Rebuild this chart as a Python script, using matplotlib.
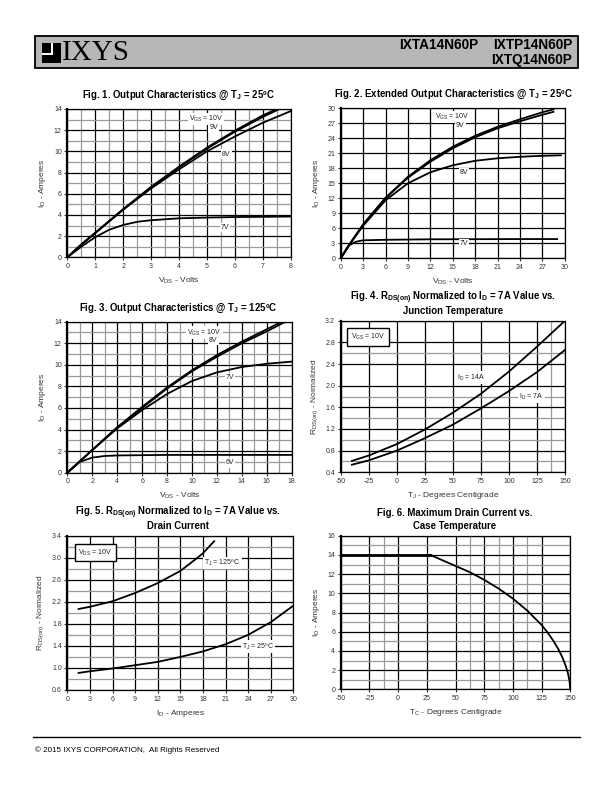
import numpy as np
import matplotlib.pyplot as plt
from matplotlib.patches import Rectangle
from matplotlib.lines import Line2D

plt.rcParams['font.family'] = ['Liberation Sans', 'DejaVu Sans']
plt.rcParams['mathtext.fontset'] = 'custom'
plt.rcParams['mathtext.rm'] = 'Liberation Sans'
plt.rcParams['mathtext.it'] = 'Liberation Sans'
plt.rcParams['mathtext.bf'] = 'Liberation Sans:bold'
plt.rcParams['axes.unicode_minus'] = False

# ---- Fig. 1 data (Tj = 25C)
f1_vds_10 = [0, 0.5, 1, 2, 3, 4, 5, 6, 7, 7.5]
f1_id_10 = [0, 1.2, 2.3, 4.55, 6.65, 8.55, 10.35, 11.95, 13.4, 14.0]
f1_vds_9 = [0, 0.5, 1, 2, 3, 4, 5, 6, 7, 7.6]
f1_id_9 = [0, 1.2, 2.3, 4.5, 6.6, 8.5, 10.25, 11.85, 13.25, 14.0]
f1_vds_8 = [0, 0.5, 1, 2, 3, 4, 5, 6, 7, 8]
f1_id_8 = [0, 1.2, 2.3, 4.5, 6.5, 8.3, 10.0, 11.4, 12.7, 13.8]
f1_vds_7 = [0, 0.5, 1, 1.5, 2, 2.5, 3, 4, 5, 6, 7, 8]
f1_id_7 = [0, 1.0, 1.9, 2.6, 3.05, 3.35, 3.5, 3.68, 3.75, 3.8, 3.82, 3.85]

# ---- Fig. 2 data (extended)
f2_vds_10 = [0, 1.5, 3, 6, 9, 12, 15, 18, 21, 24, 27, 28.5]
f2_id_10 = [0, 3.5, 6.8, 12.1, 16.3, 19.6, 22.3, 24.5, 26.3, 27.8, 29.2, 29.8]
f2_vds_9 = [0, 1.5, 3, 6, 9, 12, 15, 18, 21, 24, 27, 28.5]
f2_id_9 = [0, 3.5, 6.7, 12.0, 16.1, 19.3, 22.0, 24.2, 26.0, 27.4, 28.7, 29.3]
f2_vds_8 = [0, 1.5, 3, 6, 9, 12, 15, 18, 21, 24, 27, 29.5]
f2_id_8 = [0, 3.4, 6.5, 11.6, 15.0, 17.2, 18.6, 19.5, 20.0, 20.3, 20.5, 20.6]
f2_vds_7 = [0, 1, 2, 3, 6, 12, 18, 24, 29]
f2_id_7 = [0, 2.5, 3.3, 3.6, 3.7, 3.8, 3.82, 3.85, 3.85]

# ---- Fig. 3 data (Tj = 125C)
f3_vds_10 = [0, 1, 2, 4, 6, 8, 10, 12, 14, 16, 17.2]
f3_id_10 = [0, 1.05, 2.1, 4.2, 6.1, 7.9, 9.5, 10.9, 12.15, 13.3, 14.0]
f3_vds_8 = [0, 1, 2, 4, 6, 8, 10, 12, 14, 16, 17.5]
f3_id_8 = [0, 1.05, 2.1, 4.2, 6.0, 7.8, 9.4, 10.75, 12.0, 13.1, 14.0]
f3_vds_7 = [0, 1, 2, 4, 6, 8, 10, 12, 14, 16, 18]
f3_id_7 = [0, 1.05, 2.1, 4.1, 5.8, 7.3, 8.5, 9.3, 9.8, 10.1, 10.3]
f3_vds_6 = [0, 1, 2, 3, 4, 8, 12, 18]
f3_id_6 = [0, 1.0, 1.4, 1.55, 1.6, 1.65, 1.65, 1.65]

# ---- Fig. 4 data
f4_tj = [-40, -25, 0, 25, 50, 75, 100, 125, 150]
f4_r14 = [0.61, 0.71, 0.92, 1.19, 1.50, 1.85, 2.26, 2.72, 3.20]
f4_r7 = [0.54, 0.62, 0.80, 1.03, 1.28, 1.58, 1.90, 2.25, 2.66]

# ---- Fig. 5 data
f5_id_125 = [1.5, 3, 6, 9, 12, 15, 17, 18, 19.5]
f5_r_125 = [2.07, 2.11, 2.21, 2.36, 2.54, 2.76, 2.97, 3.08, 3.30]
f5_id_25 = [1.5, 3, 6, 9, 12, 15, 18, 21, 24, 27, 30]
f5_r_25 = [0.91, 0.94, 0.99, 1.05, 1.11, 1.20, 1.30, 1.43, 1.60, 1.83, 2.13]

# ---- Fig. 6 data
f6_tc = [-50, 28, 37.5, 50, 62.5, 75, 87.5, 100, 112.5, 125, 130, 135, 140,
         143, 146, 148, 149.3, 150]
f6_id = [14, 14, 13.5, 12.85, 12.2, 11.4, 10.5, 9.45, 8.2, 6.7, 5.95, 5.1, 4.1,
         3.35, 2.45, 1.65, 0.85, 0]

W, H = 612, 792
fig = plt.figure(figsize=(W / 100, H / 100), dpi=100)


def px_axes(x0, y0, x1, y1):
    return fig.add_axes([x0 / W, 1 - y1 / H, (x1 - x0) / W, (y1 - y0) / H])


def style(ax, xlim, ylim, xmaj, ymaj, xmin=(), ymin=(), xlab='', ylab=''):
    ax.set_xlim(*xlim)
    ax.set_ylim(*ylim)
    ax.set_xticks(xmaj)
    ax.set_yticks(ymaj)
    ax.set_xticks(xmin, minor=True)
    ax.set_yticks(ymin, minor=True)
    ax.grid(True, which='major', color='black', lw=0.9)
    ax.grid(True, which='minor', color='#9a9a9a', lw=0.9)
    ax.set_axisbelow(True)
    ax.tick_params(which='major', length=2, width=0.8, labelsize=5, colors='#333333', pad=2)
    ax.tick_params(which='minor', length=0)
    for s in ax.spines.values():
        s.set_color('black')
        s.set_linewidth(0.9)
    ax.spines['left'].set_linewidth(1.6)
    ax.set_xlabel(xlab, fontsize=6, color='#333333', labelpad=4)
    ax.set_ylabel(ylab, fontsize=6, color='#333333', labelpad=4)


def lbl(ax, x, y, s, fs=5):
    ax.text(x, y, s, fontsize=fs, ha='center', va='center', color='#222222',
            bbox=dict(facecolor='white', edgecolor='none', pad=0.8), zorder=5)


def boxlbl(ax, x, y, s):
    ax.text(x, y, s, fontsize=5, ha='center', va='center', color='#222222',
            bbox=dict(facecolor='white', edgecolor='black', lw=1.0, pad=2.5), zorder=5)


def title(x, y, s):
    fig.text(x / W, 1 - y / H, s, fontsize=6.9, fontweight='bold', ha='center', va='center')


LW = 1.3
odd = lambda a, b: np.arange(a, b + 0.01, 2)

# Fig. 1
ax1 = px_axes(67.3, 109, 290.7, 257.3)
style(ax1, (0, 8), (0, 14), range(0, 9), range(0, 15, 2),
      np.arange(0.5, 8, 1), odd(1, 13), r'V$_{\mathregular{DS}}$ - Volts', r'I$_{\mathregular{D}}$ - Amperes')
for xv, yv in [(f1_vds_10, f1_id_10), (f1_vds_9, f1_id_9), (f1_vds_8, f1_id_8), (f1_vds_7, f1_id_7)]:
    ax1.plot(xv, yv, color='black', lw=LW)
lbl(ax1, 4.97, 13.05, r'V$_{\mathregular{GS}}$ = 10V')
lbl(ax1, 5.25, 12.3, '9V')
lbl(ax1, 5.7, 9.75, '8V')
lbl(ax1, 5.65, 2.8, '7V')
title(178, 95, r'Fig. 1. Output Characteristics @ T$_{\mathbf{J}}$ = 25ºC')

# Fig. 2
ax2 = px_axes(340.7, 108.3, 564.7, 258.3)
style(ax2, (0, 30), (0, 30), range(0, 31, 3), range(0, 31, 3),
      xlab=r'V$_{\mathregular{DS}}$ - Volts', ylab=r'I$_{\mathregular{D}}$ - Amperes')
for xv, yv in [(f2_vds_10, f2_id_10), (f2_vds_9, f2_id_9), (f2_vds_8, f2_id_8), (f2_vds_7, f2_id_7)]:
    ax2.plot(xv, yv, color='black', lw=LW)
lbl(ax2, 15.0, 28.3, r'V$_{\mathregular{GS}}$ = 10V')
lbl(ax2, 16.0, 26.5, '9V')
lbl(ax2, 16.5, 17.1, '8V')
lbl(ax2, 16.5, 2.9, '7V')
title(453, 94, r'Fig. 2. Extended Output Characteristics @ T$_{\mathbf{J}}$ = 25ºC')

# Fig. 3
ax3 = px_axes(67.3, 321.7, 291.7, 472.7)
style(ax3, (0, 18), (0, 14), range(0, 19, 2), range(0, 15, 2),
      odd(1, 17), odd(1, 13), r'V$_{\mathregular{DS}}$ - Volts', r'I$_{\mathregular{D}}$ - Amperes')
for xv, yv in [(f3_vds_10, f3_id_10), (f3_vds_8, f3_id_8), (f3_vds_7, f3_id_7), (f3_vds_6, f3_id_6)]:
    ax3.plot(xv, yv, color='black', lw=LW)
lbl(ax3, 11.0, 13.0, r'V$_{\mathregular{GS}}$ = 10V')
lbl(ax3, 11.7, 12.3, '8V')
lbl(ax3, 13.05, 8.85, '7V')
lbl(ax3, 13.05, 0.9, '6V')
title(178, 308, r'Fig. 3. Output Characteristics @ T$_{\mathbf{J}}$ = 125ºC')

# Fig. 4
ax4 = px_axes(340.7, 320.7, 565, 472.3)
style(ax4, (-50, 150), (0.4, 3.2), range(-50, 151, 25), np.arange(0.4, 3.21, 0.4),
      [137.5], [0.6, 1.0, 1.4, 1.8, 2.6], r'T$_{\mathregular{J}}$ - Degrees Centigrade',
      r'R$_{\mathregular{DS(on)}}$ - Normalized')
ax4.yaxis.set_major_formatter(plt.FormatStrFormatter('%.1f'))
ax4.plot(f4_tj, f4_r14, color='black', lw=LW)
ax4.plot(f4_tj, f4_r7, color='black', lw=LW)
lbl(ax4, 66, 2.15, r'I$_{\mathregular{D}}$ = 14A')
lbl(ax4, 120, 1.80, r'I$_{\mathregular{D}}$ = 7A')
boxlbl(ax4, -25.5, 2.9, r'V$_{\mathregular{GS}}$ = 10V')
title(453, 298, r'Fig. 4. R$_{\mathbf{DS(on)}}$ Normalized to I$_{\mathbf{D}}$ = 7A Value vs.')
title(453, 311, 'Junction Temperature')

# Fig. 5
ax5 = px_axes(67.3, 535.7, 293.3, 690)
style(ax5, (0, 30), (0.6, 3.4), range(0, 31, 3), np.arange(0.6, 3.41, 0.4),
      (), np.arange(0.8, 3.21, 0.4), r'I$_{\mathregular{D}}$ - Amperes',
      r'R$_{\mathregular{DS(on)}}$ - Normalized')
ax5.yaxis.set_major_formatter(plt.FormatStrFormatter('%.1f'))
ax5.plot(f5_id_125, f5_r_125, color='black', lw=LW)
ax5.plot(f5_id_25, f5_r_25, color='black', lw=LW)
lbl(ax5, 20.6, 2.9, r'T$_{\mathregular{J}}$ = 125ºC')
lbl(ax5, 25.3, 1.39, r'T$_{\mathregular{J}}$ = 25ºC')
boxlbl(ax5, 3.7, 3.09, r'V$_{\mathregular{DS}}$ = 10V')
title(178, 513, r'Fig. 5. R$_{\mathbf{DS(on)}}$ Normalized to I$_{\mathbf{D}}$ = 7A Value vs.')
title(178, 526, 'Drain Current')

# Fig. 6
ax6 = px_axes(340.7, 535.7, 570.3, 689.3)
style(ax6, (-50, 150), (0, 16), range(-50, 151, 25), range(0, 17, 2),
      [-12.5, 62.5, 87.5, 112.5], odd(1, 15), r'T$_{\mathregular{C}}$ - Degrees Centigrade',
      r'I$_{\mathregular{D}}$ - Amperes')
ax6.plot(f6_tc[:2], f6_id[:2], color='black', lw=2.0)
ax6.plot(f6_tc[1:], f6_id[1:], color='black', lw=LW)
title(455, 513, 'Fig. 6. Maximum Drain Current vs.')
title(455, 526, 'Case Temperature')

# ---- header band and footer
hdr = fig.add_axes([0, 0, 1, 1], zorder=-1)
hdr.set_xlim(0, W)
hdr.set_ylim(H, 0)
hdr.axis('off')
hdr.add_patch(Rectangle((35, 36), 543, 32, facecolor='#b7b7b7', edgecolor='black', lw=1.3))
hdr.add_patch(Rectangle((41.5, 43), 19.5, 19.5, facecolor='black', edgecolor='none'))
hdr.add_patch(Rectangle((50.5, 43), 2.5, 12, facecolor='white', edgecolor='none'))
hdr.add_patch(Rectangle((41.5, 52.5), 11.5, 2.5, facecolor='white', edgecolor='none'))
hdr.text(62, 53, 'IXYS', fontsize=21, family='Liberation Serif', va='center', ha='left')
hdr.text(478, 45, 'IXTA14N60P', fontsize=9.8, fontweight='bold', ha='right', va='center')
hdr.text(572, 45, 'IXTP14N60P', fontsize=9.8, fontweight='bold', ha='right', va='center')
hdr.text(572, 60, 'IXTQ14N60P', fontsize=9.8, fontweight='bold', ha='right', va='center')
hdr.add_line(Line2D([33, 580], [737, 737], color='black', lw=1.0))
hdr.text(35, 750, '© 2015 IXYS CORPORATION,  All Rights Reserved', fontsize=5.8, ha='left', va='center')

fig.savefig('out.png', dpi=100)
